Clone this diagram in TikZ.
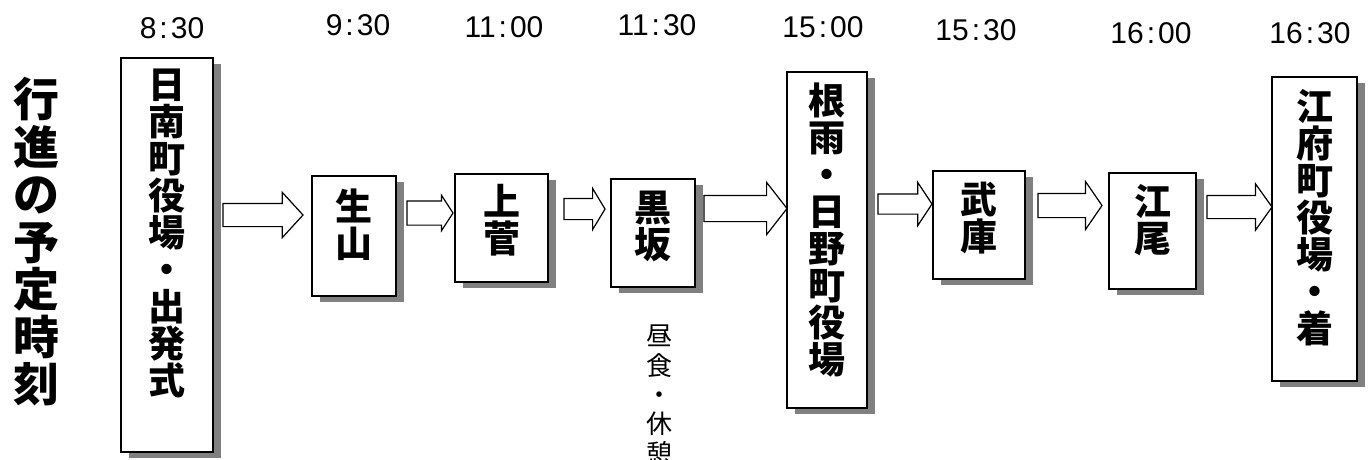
\documentclass[tikz,border=0pt]{standalone}
\usepackage{fontspec}
\setmainfont{Liberation Sans}
\newfontfamily\gothic{Noto Sans CJK JP}
\usetikzlibrary{positioning,shapes.arrows,shadows}

\tikzset{
  stop/.style={draw, line width=1.6pt, fill=white, inner sep=0pt,
    drop shadow={shadow xshift=8pt, shadow yshift=-6pt, fill=black!50, opacity=1}},
  stoptext/.style={inner sep=0pt, align=center, font=\gothic\bfseries\fontsize{37}{37}\selectfont},
  timetext/.style={inner sep=0pt, font=\fontsize{30}{30}\selectfont},
  walk/.style={draw, single arrow, line width=1.2pt, fill=white, inner xsep=0pt, outer sep=0pt, shape border rotate=0, anchor=tail},
}
\newcommand{\tm}[2]{#1\kern3pt:\kern3pt#2}

\begin{document}
\begin{tikzpicture}[x=1pt, y=-1pt]
\useasboundingbox (0,0) rectangle (1370,459);
\clip (0,0) rectangle (1370,459);

% title
\node[inner sep=0pt, anchor=north, align=center, font=\gothic\bfseries\fontsize{46}{47.5}\selectfont] (title) at (36,77) {行\\進\\の\\予\\定\\時\\刻};

% stops
\node[stop, minimum width=92pt, minimum height=394pt] (nichinan) at (167,255) {};
\node[stop, minimum width=84pt, minimum height=120pt] (shoyama) at (354,236) {};
\node[stop, minimum width=93pt, minimum height=108pt] (kamisuge) at (501.5,228) {};
\node[stop, minimum width=84pt, minimum height=108pt] (kurosaka) at (653,233) {};
\node[stop, minimum width=80pt, minimum height=336pt] (neu) at (827,240) {};
\node[stop, minimum width=92pt, minimum height=108pt] (muko) at (979,225) {};
\node[stop, minimum width=87pt, minimum height=116pt] (ebi) at (1152.5,231) {};
\node[stop, minimum width=85pt, minimum height=304pt] (kofu) at (1314.5,229) {};

% names in the stops
\node[stoptext, below=12pt of nichinan.north] (nichinantxt) {日\\南\\町\\役\\場\\・\\出\\発\\式};
\node[stoptext, below=13pt of shoyama.north] (shoyamatxt) {生\\山};
\node[stoptext, below=11pt of kamisuge.north] (kamisugetxt) {上\\菅};
\node[stoptext, below=13pt of kurosaka.north] (kurosakatxt) {黒\\坂};
\node[stoptext, below=11pt of neu.north] (neutxt) {根\\雨\\・\\日\\野\\町\\役\\場};
\node[stoptext, below=12pt of muko.north] (mukotxt) {武\\庫};
\node[stoptext, below=12pt of ebi.north] (ebitxt) {江\\尾};
\node[stoptext, below=13pt of kofu.north] (kofutxt) {江\\府\\町\\役\\場\\・\\着};

% times
\node[timetext] (t1) at (172,28) {\tm{8}{30}};
\node[timetext] (t2) at (358,25) {\tm{9}{30}};
\node[timetext] (t3) at (504,27) {\tm{11}{00}};
\node[timetext] (t4) at (657,25) {\tm{11}{30}};
\node[timetext] (t5) at (823,27) {\tm{15}{00}};
\node[timetext] (t6) at (976,30) {\tm{15}{30}};
\node[timetext] (t7) at (1151,33) {\tm{16}{00}};
\node[timetext] (t8) at (1310,33) {\tm{16}{30}};

% block arrows
\node[walk, minimum height=80pt, inner ysep=11pt, single arrow head extend=11pt, single arrow tip angle=95] (a1) at (223,215) {};
\node[walk, minimum height=46pt, inner ysep=11.5pt, single arrow head extend=5.5pt, single arrow tip angle=114] (a2) at (407,213) {};
\node[walk, minimum height=41pt, inner ysep=10pt, single arrow head extend=10pt, single arrow tip angle=118] (a3) at (564,209) {};
\node[walk, minimum height=83pt, inner ysep=12.5pt, single arrow head extend=13pt, single arrow tip angle=104] (a4) at (704,208.5) {};
\node[walk, minimum height=54pt, inner ysep=9.5pt, single arrow head extend=11.5pt, single arrow tip angle=113] (a5) at (878,204) {};
\node[walk, minimum height=64pt, inner ysep=11.5pt, single arrow head extend=12pt, single arrow tip angle=111] (a6) at (1038,205.5) {};
\node[walk, minimum height=65pt, inner ysep=11pt, single arrow head extend=11.5pt, single arrow tip angle=109] (a7) at (1207,207) {};

% lunch note
\node[inner sep=0pt, anchor=north, align=center, font=\gothic\fontsize{26}{29.3}\selectfont] (rest) at (659,325) {昼\\食\\・\\休\\憩};
\end{tikzpicture}
\end{document}
